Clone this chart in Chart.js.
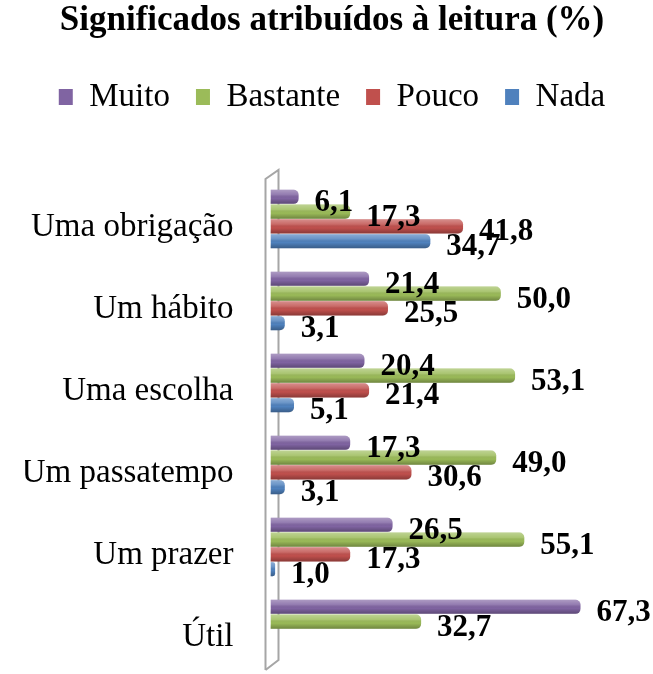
<!DOCTYPE html>
<html lang="pt">
<head>
<meta charset="UTF-8">
<title>Significados atribuídos à leitura</title>
<script src="https://cdn.jsdelivr.net/npm/chart.js"></script>
<style>
    body { margin: 0; background: #fff; }
    #wrap { width: 653px; height: 674px; position: relative; }
</style>
</head>
<body>
<div id="wrap"><canvas id="grafico"></canvas></div>
<script>
    const categorias = ['Uma obrigação', 'Um hábito', 'Uma escolha', 'Um passatempo', 'Um prazer', 'Útil'];
    const series = ['Muito', 'Bastante', 'Pouco', 'Nada'];
    const muito = [6.1, 21.4, 20.4, 17.3, 26.5, 67.3];
    const bastante = [17.3, 50.0, 53.1, 49.0, 55.1, 32.7];
    const pouco = [41.8, 25.5, 21.4, 30.6, 17.3, null];
    const nada = [34.7, 3.1, 5.1, 3.1, 1.0, null];
    const cores = ['#8064A2', '#9BBB59', '#C0504D', '#4F81BD'];

    const fonte = '"Liberation Serif", "Times New Roman", serif';

    // parede 3D à esquerda do gráfico
    const parede = {
        id: 'parede',
        beforeDatasetsDraw(chart) {
            const { ctx, chartArea: a } = chart;
            const x1 = a.left - 5, x2 = a.left + 8;
            ctx.save();
            ctx.strokeStyle = '#a6a6a6';
            ctx.lineWidth = 2;
            ctx.beginPath();
            ctx.moveTo(x1, a.bottom);
            ctx.lineTo(x1, a.top + 1);
            ctx.lineTo(x2, a.top - 8);
            ctx.lineTo(x2, a.bottom - 10);
            ctx.lineTo(x1, a.bottom);
            ctx.stroke();
            ctx.restore();
        }
    };

    // brilho de cilindro + rótulos de valores
    const rotulos = {
        id: 'rotulos',
        afterDatasetsDraw(chart) {
            const ctx = chart.ctx;
            ctx.save();
            chart.data.datasets.forEach((ds, i) => {
                const meta = chart.getDatasetMeta(i);
                meta.data.forEach((el, j) => {
                    const v = ds.data[j];
                    if (v === null || v === undefined || !isFinite(el.y)) return;
                    const h = el.height, top = el.y - h / 2;
                    const g = ctx.createLinearGradient(0, top, 0, top + h);
                    g.addColorStop(0, 'rgba(255,255,255,0.35)');
                    g.addColorStop(0.35, 'rgba(255,255,255,0.15)');
                    g.addColorStop(0.6, 'rgba(0,0,0,0)');
                    g.addColorStop(1, 'rgba(0,0,0,0.28)');
                    const r = Math.min(5, (el.x - el.base) / 2);
                    ctx.fillStyle = g;
                    ctx.beginPath();
                    ctx.moveTo(el.base, top);
                    ctx.lineTo(el.x - r, top);
                    ctx.quadraticCurveTo(el.x, top, el.x, top + r);
                    ctx.lineTo(el.x, top + h - r);
                    ctx.quadraticCurveTo(el.x, top + h, el.x - r, top + h);
                    ctx.lineTo(el.base, top + h);
                    ctx.closePath();
                    ctx.fill();
                });
            });
            ctx.fillStyle = '#000';
            ctx.font = 'bold 31px ' + fonte;
            ctx.textAlign = 'left';
            ctx.textBaseline = 'alphabetic';
            chart.data.datasets.forEach((ds, i) => {
                const meta = chart.getDatasetMeta(i);
                meta.data.forEach((el, j) => {
                    const v = ds.data[j];
                    if (v === null || v === undefined || !isFinite(el.y)) return;
                    ctx.fillText(v.toFixed(1).replace('.', ','), el.x + 16, el.y + 14);
                });
            });
            ctx.restore();
        }
    };

    // espaço extra entre a legenda e a área do gráfico
    const espacoLegenda = {
        id: 'espacoLegenda',
        beforeInit(chart) {
            const lg = chart.legend;
            const fit = lg.fit;
            lg.fit = function () {
                fit.call(this);
                this.height = 123.5;
            };
        }
    };

    const dados = [muito, bastante, pouco, nada];

    new Chart(document.getElementById('grafico'), {
        type: 'bar',
        data: {
            labels: categorias,
            datasets: series.map((nome, i) => ({
                label: nome,
                data: dados[i],
                backgroundColor: cores[i],
                borderRadius: 5,
                borderSkipped: 'start',
                barPercentage: 0.95,
                categoryPercentage: 0.72
            }))
        },
        options: {
            indexAxis: 'y',
            responsive: true,
            maintainAspectRatio: false,
            animation: false,
            layout: { padding: { left: 25, right: 14, top: 0, bottom: 4 } },
            plugins: {
                title: {
                    display: true,
                    text: 'Significados atribuídos à leitura (%)',
                    color: '#000',
                    font: { family: fonte, size: 35, weight: 'bold' },
                    padding: { top: 0, bottom: 12.5 }
                },
                legend: {
                    labels: {
                        color: '#000',
                        font: { family: fonte, size: 33 },
                        boxWidth: 14,
                        boxHeight: 16,
                        padding: 26
                    }
                },
                tooltip: { enabled: false }
            },
            scales: {
                x: { display: false, min: 0, max: 80 },
                y: {
                    grid: { display: false },
                    border: { display: false },
                    ticks: { color: '#000', font: { family: fonte, size: 33 }, padding: 29, labelOffset: 8 },
                    afterFit(scale) {
                        scale.width = 245.5;
                        scale.paddingTop = 0;
                        scale.paddingBottom = 0;
                    }
                }
            }
        },
        plugins: [parede, rotulos, espacoLegenda]
    });
</script>
</body>
</html>
